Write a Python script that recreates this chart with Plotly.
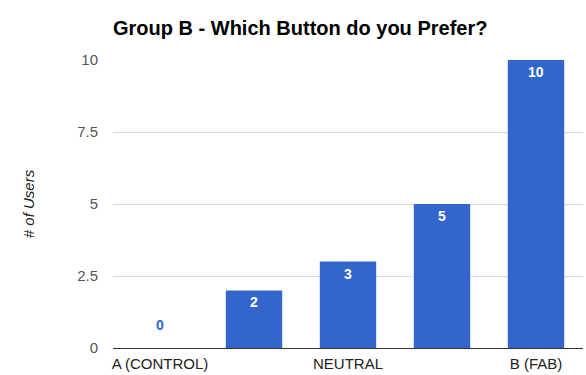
import plotly.graph_objects as go

# Survey responses on a 5-point scale
categories = ["A (CONTROL)", "", "NEUTRAL", "", "B (FAB)"]
users = [0, 2, 3, 5, 10]
y_ticks = [0, 2.5, 5, 7.5, 10]
y_tick_text = ["0", "2.5", "5", "7.5", "10"]

BAR = "#3366cc"
FONT = "Liberation Sans, Arial, sans-serif"

positions = list(range(len(categories)))

fig = go.Figure(
    go.Bar(
        x=positions,
        y=users,
        width=0.6,
        marker=dict(color=BAR, line=dict(width=0)),
        hoverinfo="skip",
    )
)

# Value labels: white inside the bar top, blue just above the baseline for empty bars
for xi, v in zip(positions, users):
    if v > 0:
        fig.add_annotation(
            x=xi, y=v, text=f"<b>{v}</b>", showarrow=False,
            yanchor="top", yshift=-2,
            font=dict(family=FONT, size=14, color="white"),
        )
    else:
        fig.add_annotation(
            x=xi, y=v, text=f"<b>{v}</b>", showarrow=False,
            yanchor="bottom", yshift=13,
            font=dict(family=FONT, size=14, color=BAR),
        )

fig.update_layout(
    width=586,
    height=375,
    margin=dict(l=113, r=3, t=60, b=27),
    paper_bgcolor="white",
    plot_bgcolor="white",
    showlegend=False,
    title=dict(
        text="<b>Group B - Which Button do you Prefer?</b>",
        x=113 / 586, xanchor="left",
        y=1 - 28 / 375, yanchor="middle",
        font=dict(family=FONT, size=20, color="#000000"),
    ),
    font=dict(family=FONT, size=15, color="#444444"),
)

fig.update_xaxes(
    range=[-0.5, len(categories) - 0.5],
    tickmode="array",
    tickvals=positions,
    ticktext=categories,
    showgrid=False,
    showline=False,
    zeroline=False,
    ticks="",
    ticklabelstandoff=5,
    tickfont=dict(family=FONT, size=15, color="#222222"),
    fixedrange=True,
)

fig.update_yaxes(
    range=[0, 10],
    tickmode="array",
    tickvals=y_ticks,
    ticktext=y_tick_text,
    showgrid=True,
    gridcolor="#dcdcdc",
    gridwidth=1,
    zeroline=True,
    zerolinecolor="#333333",
    zerolinewidth=1,
    showline=False,
    ticks="",
    ticklabelstandoff=14,
    tickfont=dict(family=FONT, size=15, color="#555555"),
    title=dict(
        text="<i># of Users</i>",
        standoff=38,
        font=dict(family=FONT, size=15, color="#222222"),
    ),
    fixedrange=True,
)

fig.write_html("out.html")
